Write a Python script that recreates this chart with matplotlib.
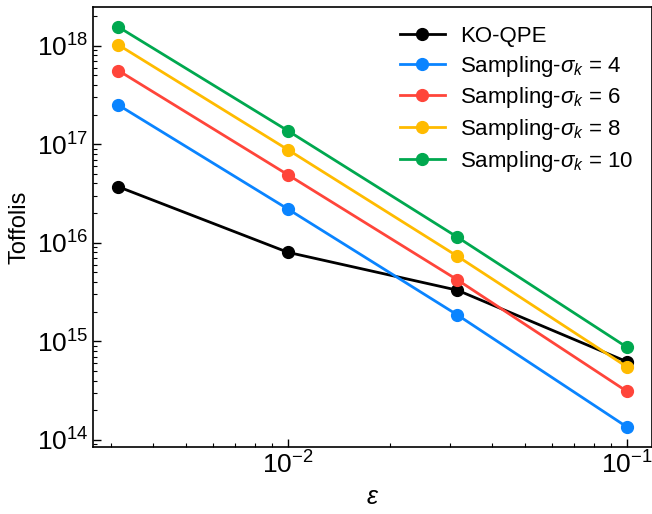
import matplotlib
matplotlib.use("Agg")
import matplotlib.pyplot as plt

plt.rcParams['font.family'] = ['Liberation Sans', 'DejaVu Sans']
plt.rcParams['mathtext.fontset'] = 'custom'
plt.rcParams['mathtext.rm'] = 'Liberation Sans'
plt.rcParams['mathtext.it'] = 'Liberation Sans:italic'
plt.rcParams['mathtext.bf'] = 'Liberation Sans:bold'

eps = [10**-2.5, 10**-2, 10**-1.5, 10**-1]

ko_qpe = [3.7e16, 8.0e15, 3.3e15, 6.2e14]
samp_4 = [2.5e17, 2.2e16, 1.85e15, 1.35e14]
samp_6 = [5.6e17, 4.9e16, 4.2e15, 3.1e14]
samp_8 = [1.02e18, 8.8e16, 7.3e15, 5.5e14]
samp_10 = [1.55e18, 1.37e17, 1.14e16, 8.7e14]

labels = ['KO-QPE', r'Sampling-$\sigma_k$ = 4', r'Sampling-$\sigma_k$ = 6',
          r'Sampling-$\sigma_k$ = 8', r'Sampling-$\sigma_k$ = 10']
colors = ['#000000', '#0A84FF', '#FF453A', '#FFBB00', '#00A84F']

fig = plt.figure(figsize=(6.52, 5.14), dpi=100)
ax = fig.add_axes([0.1426, 0.1304, 0.858, 0.856])

for ys, lab, c in zip([ko_qpe, samp_4, samp_6, samp_8, samp_10], labels, colors):
    ax.plot(eps, ys, '-o', color=c, label=lab, lw=2, ms=8.5)

ax.set_xscale('log')
ax.set_yscale('log')
ax.set_xlabel(r'$\varepsilon$', fontsize=18)
ax.set_ylabel('Toffolis', fontsize=17)
ax.tick_params(which='both', direction='in', labelsize=19)
ax.tick_params(which='major', length=6, width=1)
ax.tick_params(which='minor', length=3, width=0.8)
for s in ax.spines.values():
    s.set_linewidth(1.2)

ax.legend(loc='upper right', frameon=False, fontsize=16, handlelength=2.0,
          labelspacing=0.3, borderaxespad=0.45, handletextpad=0.7)

fig.savefig('out.png', dpi=100)
